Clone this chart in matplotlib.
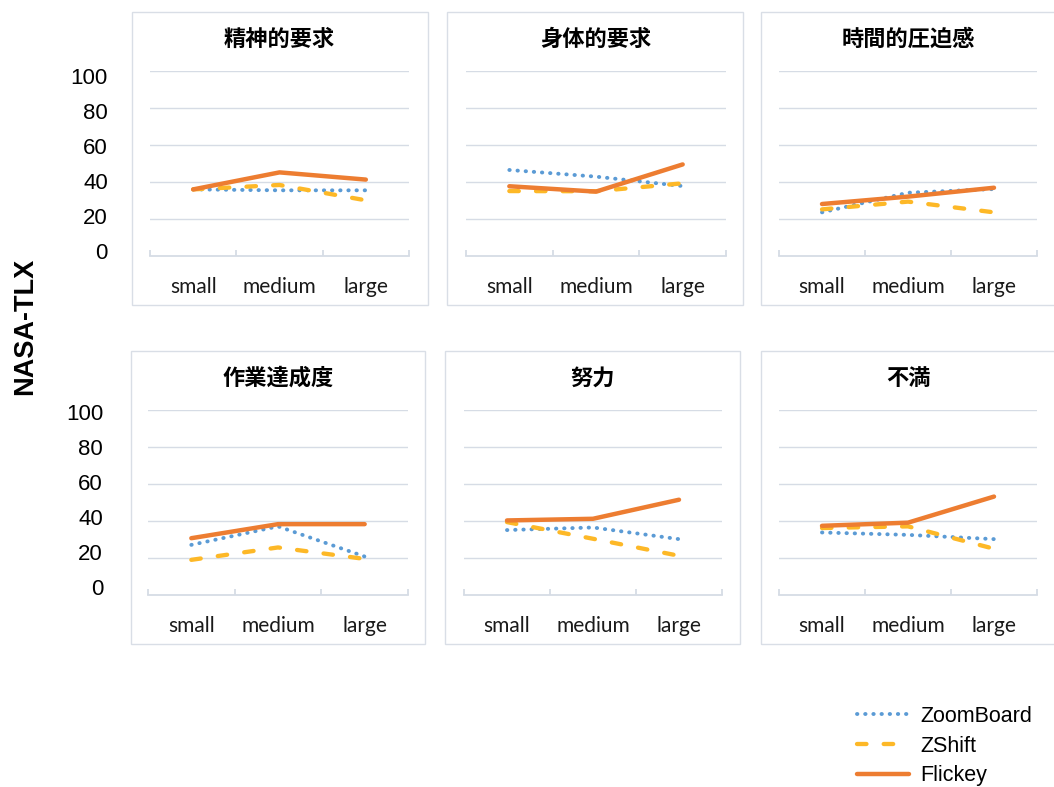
import matplotlib.pyplot as plt
from matplotlib.patches import Rectangle
from matplotlib.lines import Line2D

W, H = 1054, 787

sizes = ["small", "medium", "large"]
scales = ["精神的要求", "身体的要求", "時間的圧迫感", "作業達成度", "努力", "不満"]

# mean NASA-TLX subscale scores per key size
zoomboard = [
    [36.0, 35.5, 35.5],
    [46.5, 42.9, 37.8],
    [23.6, 34.2, 36.2],
    [27.1, 37.1, 20.8],
    [35.1, 36.5, 30.2],
    [33.8, 32.5, 30.2],
]
zshift = [
    [36.0, 38.4, 30.1],
    [35.1, 35.0, 39.3],
    [25.2, 29.4, 23.6],
    [19.0, 25.7, 19.5],
    [39.4, 30.4, 21.2],
    [36.2, 37.1, 25.0],
]
flickey = [
    [36.0, 45.2, 41.3],
    [37.7, 34.8, 49.5],
    [28.1, 32.1, 36.9],
    [30.7, 38.3, 38.3],
    [40.3, 41.2, 51.5],
    [37.4, 39.1, 53.2],
]
yticks = [0, 20, 40, 60, 80, 100]

GRID = "#D6DCE5"
FRAME = "#D9DEE6"
C_ZB = "#5B9BD5"
C_ZS = "#FDB827"
C_FL = "#ED7D31"

styles = [
    ("ZoomBoard", zoomboard, dict(color=C_ZB, lw=2.8, linestyle=(0, (0.1, 2.0)), dash_capstyle="round")),
    ("ZShift", zshift, dict(color=C_ZS, lw=3.1, linestyle=(0, (2.2, 4.0)), dash_capstyle="round")),
    ("Flickey", flickey, dict(color=C_FL, lw=3.2, solid_capstyle="round")),
]


def px_box(x0, y0, x1, y1):
    return [x0 / W, 1 - y1 / H, (x1 - x0) / W, (y1 - y0) / H]


# (frame box, plot area) in pixels
panels = [
    ((132, 12, 428, 305), (150, 71, 409, 256)),
    ((447, 12, 743, 305), (466, 71, 726, 256)),
    ((761, 12, 1062, 305), (779, 71, 1037, 256)),
    ((131, 351, 425, 644), (148, 410, 408, 595)),
    ((445, 351, 740, 644), (464, 410, 722, 595)),
    ((761, 351, 1062, 644), (779, 410, 1037, 595)),
]

plt.rcParams["font.family"] = ["Noto Sans CJK JP", "DejaVu Sans"]
fig = plt.figure(figsize=(W / 100, H / 100), dpi=100)

for i, (frame, area) in enumerate(panels):
    x0, y0, x1, y1 = frame
    fig.patches.append(Rectangle((x0 / W, 1 - y1 / H), (x1 - x0) / W, (y1 - y0) / H,
                                 transform=fig.transFigure, fill=False,
                                 edgecolor=FRAME, lw=1.0))
    ax = fig.add_axes(px_box(*area))
    x = list(range(len(sizes)))
    for name, data, kw in styles:
        ax.plot(x, data[i], **kw)
    ax.set_xlim(-0.5, 2.5)
    ax.set_ylim(0, 100)
    ax.set_yticks(yticks[1:])
    ax.yaxis.grid(True, color=GRID, lw=1.0)
    ax.tick_params(axis="y", length=0, labelleft=False)
    ax.set_axisbelow(True)
    for s in ["left", "right", "top"]:
        ax.spines[s].set_visible(False)
    ax.spines["bottom"].set_color(GRID)
    ax.spines["bottom"].set_linewidth(1.3)
    ax.set_xticks(x)
    ax.set_xticklabels(sizes, family="Lato", fontsize=15, color="#1a1a1a")
    ax.tick_params(axis="x", which="major", length=0, pad=15)
    ax.set_xticks([-0.5, 0.5, 1.5, 2.5], minor=True)
    ax.tick_params(axis="x", which="minor", direction="in", length=4.5,
                   color=GRID, width=1.3)
    ax.set_title(scales[i], fontsize=16, fontweight="bold", pad=18)

# score labels down the left side of each row
for y_top, y_bot, right in [(76, 251, 108), (412, 587, 103)]:
    lab = fig.add_axes(px_box(right, y_top, right + 2, y_bot))
    lab.set_ylim(0, 100)
    lab.set_yticks(yticks)
    lab.set_yticklabels([str(v) for v in yticks], family="Liberation Sans", fontsize=16)
    lab.tick_params(axis="y", length=0, pad=0)
    lab.set_xticks([])
    lab.patch.set_visible(False)
    for s in lab.spines.values():
        s.set_visible(False)

fig.text(25 / W, 1 - 326 / H, "NASA-TLX", rotation=90, ha="center", va="center",
         family="Liberation Sans", fontsize=19.5, fontweight="bold")

handles = [Line2D([], [], **kw) for _, _, kw in styles]
fig.legend(handles, [s[0] for s in styles], loc="upper left",
           bbox_to_anchor=(857 / W, 1 - 706 / H), frameon=False,
           prop={"family": "Liberation Sans", "size": 15.5},
           handlelength=2.4, handletextpad=0.55, labelspacing=0.4,
           borderpad=0, borderaxespad=0)

fig.savefig("out.png", dpi=100)
